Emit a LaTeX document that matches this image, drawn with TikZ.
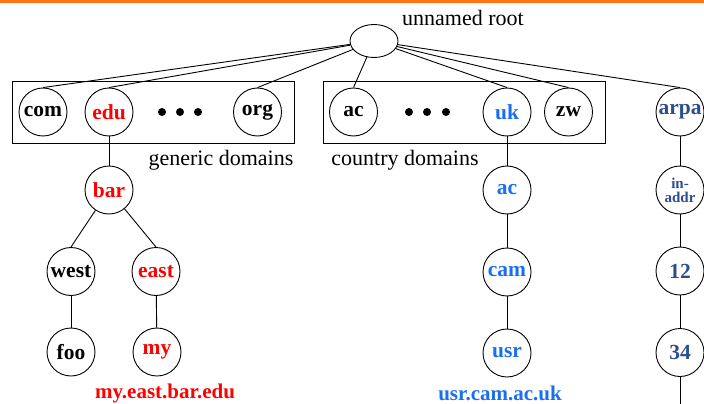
\documentclass[tikz,border=0pt]{standalone}
\usepackage{fontspec}
\setmainfont{Liberation Serif}
\usetikzlibrary{shapes.geometric}
\definecolor{topbar}{RGB}{255,115,20}
\definecolor{pathred}{RGB}{255,0,0}
\definecolor{pathblue}{RGB}{26,110,240}
\definecolor{arpablue}{RGB}{43,79,140}
\tikzset{
  dom/.style={circle,draw=black,line width=0.9pt,minimum size=48pt,inner sep=0pt,
    font=\fontsize{21.5}{23}\selectfont\bfseries},
  edge/.style={draw=black,line width=0.9pt},
  grp/.style={draw=black,line width=0.9pt},
  caption/.style={font=\fontsize{22}{24}\selectfont},
  fqdn/.style={font=\fontsize{21}{23}\selectfont\bfseries},
  dotmark/.style={circle,fill=black,minimum size=8pt,inner sep=0pt}
}
\begin{document}
\begin{tikzpicture}[x=1pt,y=-1pt]
\useasboundingbox (0,0) rectangle (704,404);
% top rule
\fill[topbar] (0,0) rectangle (704,3);

% root
\node[ellipse,draw=black,line width=0.9pt,minimum width=48pt,minimum height=33pt,inner sep=0pt] (root) at (374,41) {};
\node[caption] (rootlbl) at (463,18) {unnamed root};

% domain group frames
\node[grp,minimum width=282pt,minimum height=62pt,inner sep=0pt] (gbox) at (153,112) {};
\node[grp,minimum width=282pt,minimum height=62pt,inner sep=0pt] (cbox) at (464,112) {};
\node[caption] (glbl) at (221,160) {generic domains};
\node[caption] (clbl) at (405,160) {country domains};

% top-level domains
\node[dom] (com) at (43,112) {com};
\node[dom,text=pathred] (edu) at (109,112) {edu};
\node[dotmark] (g1) at (162,112) {};
\node[dotmark] (g2) at (180,112) {};
\node[dotmark] (g3) at (198,112) {};
\node[dom] (org) at (257.5,112) {org};
\node[dom] (ac) at (353.5,112) {ac};
\node[dotmark] (c1) at (409,112) {};
\node[dotmark] (c2) at (427,112) {};
\node[dotmark] (c3) at (446,112) {};
\node[dom,text=pathblue] (uk) at (507,112) {uk};
\node[dom] (zw) at (568.5,112) {zw};
\node[dom,text=arpablue] (arpa) at (680,112) {arpa};

% edu subtree
\node[dom,text=pathred] (bar) at (109,190) {bar};
\node[dom] (west) at (71,271.5) {west};
\node[dom,text=pathred] (east) at (156,271.5) {east};
\node[dom] (foo) at (71,352) {foo};
\node[dom,text=pathred] (my) at (157,352) {my};
\node[fqdn,text=pathred] (myname) at (165,393) {my.east.bar.edu};

% uk subtree
\node[dom,text=pathblue] (ukac) at (507,190) {ac};
\node[dom,text=pathblue] (cam) at (507,272) {cam};
\node[dom,text=pathblue] (usr) at (507,353) {usr};
\node[fqdn,text=pathblue] (usrname) at (500,393) {usr.cam.ac.uk};

% reverse lookup subtree
\node[dom,text=arpablue,align=center,font=\fontsize{15}{14}\selectfont\bfseries] (inaddr) at (680,190) {in-\\addr};
\node[dom,text=arpablue] (n12) at (680,271) {12};
\node[dom,text=arpablue] (n34) at (680,352.5) {34};
\coordinate (arpaend) at (680,404);

% connectors
\foreach \c in {com,edu,org,ac,uk,zw,arpa}
  \draw[edge] (root) -- (\c.north);
\draw[edge] (edu) -- (bar);
\draw[edge] (bar) -- (west.north);
\draw[edge] (bar) -- (east.north);
\draw[edge] (west) -- (foo);
\draw[edge] (east) -- (my);
\draw[edge] (uk) -- (ukac);
\draw[edge] (ukac) -- (cam);
\draw[edge] (cam) -- (usr);
\draw[edge] (arpa) -- (inaddr);
\draw[edge] (inaddr) -- (n12);
\draw[edge] (n12) -- (n34);
\draw[edge] (n34) -- (arpaend);
\end{tikzpicture}
\end{document}
